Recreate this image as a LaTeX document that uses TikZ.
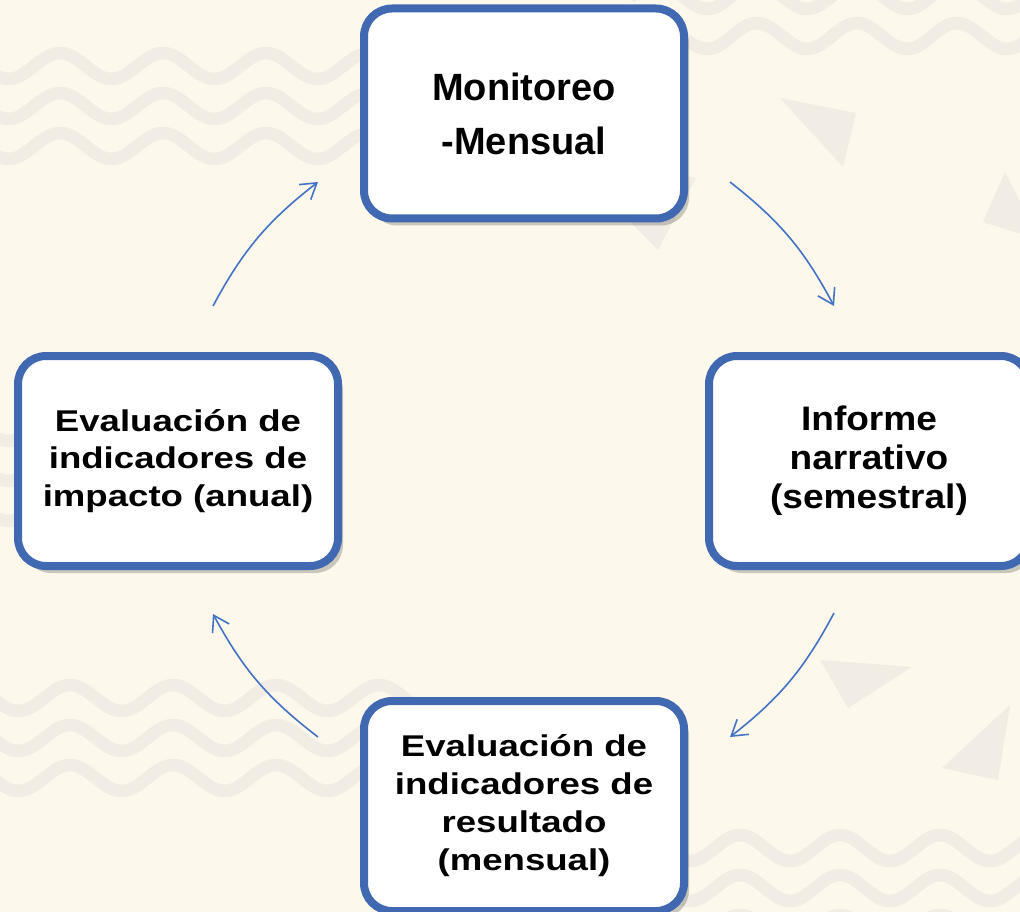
\documentclass[tikz,border=0pt]{standalone}
\usepackage{fontspec}
\setmainfont{Liberation Sans}
\newfontfamily\fA[FakeStretch=1.22]{Liberation Sans}
\newfontfamily\fB[FakeStretch=1.09]{Liberation Sans}
\usetikzlibrary{arrows.meta,shadows}
\definecolor{bg}{RGB}{252,248,236}
\definecolor{deco}{RGB}{241,236,228}
\definecolor{boxblue}{RGB}{65,105,177}
\definecolor{arrowblue}{RGB}{68,114,196}
\newcommand{\wavegrp}[5]{%
  \foreach \m in {0,40,80}{%
    \draw[wave] plot[domain=#1:#2,samples=140,smooth] (\x,{-((#3)+\m)+13*cos(((\x-(#4))/(#5))*360)});
  }}
\begin{document}
\begin{tikzpicture}[x=1pt,y=1pt,
  stepbox/.style={draw=boxblue,line width=8pt,fill=white,rounded corners=28pt,
    minimum width=320pt,minimum height=210pt,align=center,inner sep=0pt,
    drop shadow={shadow xshift=5pt,shadow yshift=-7pt,opacity=0.2,fill=black}},
  flow/.style={draw=arrowblue,line width=1.6pt,-{Straight Barb[length=15pt,width=19pt]}},
  wave/.style={draw=deco,line width=12.5pt},
  tri/.style={fill=deco}]
\clip (0,0) rectangle (1020,-912);
\fill[bg] (0,0) rectangle (1020,-912);
% background waves
\wavegrp{-5}{430}{66}{60}{103}
\wavegrp{630}{1025}{-44}{757}{100}
\wavegrp{-5}{330}{428}{60}{103}
\wavegrp{-5}{430}{698}{70}{103}
\wavegrp{630}{1025}{848}{740}{100}
% background triangles
\fill[tri] (780,-98) -- (856,-113) -- (843,-167) -- cycle;
\fill[tri] (1005,-172) -- (983,-222) -- (1040,-240) -- cycle;
\fill[tri] (658,-250) -- (560,-150) -- (696,-178) -- cycle;
\fill[tri] (820,-660) -- (912,-667) -- (848,-708) -- cycle;
\fill[tri] (1010,-705) -- (942,-768) -- (998,-780) -- cycle;
% boxes
\node[stepbox,font=\bfseries\fontsize{38}{54}\selectfont] (mon) at (524,-113.5) {Monitoreo\\-Mensual};
\node[stepbox,font=\fB\bfseries\fontsize{34}{39}\selectfont] (inf) at (869,-461) {Informe\\narrativo\\(semestral)};
\node[stepbox,font=\fA\bfseries\fontsize{30}{38}\selectfont] (res) at (524,-806) {Evaluación de\\indicadores de\\resultado\\(mensual)};
\node[stepbox,font=\fA\bfseries\fontsize{30}{37.5}\selectfont] (imp) at (178,-461) {Evaluación de\\indicadores de\\impacto (anual)};
% connector ends
\coordinate (a1s) at (213,-306); \coordinate (a1e) at (318,-182);
\coordinate (a2s) at (730,-182); \coordinate (a2e) at (834,-306);
\coordinate (a3s) at (834,-613); \coordinate (a3e) at (730,-737);
\coordinate (a4s) at (318,-737); \coordinate (a4e) at (213,-614);
\draw[flow] (a1s) to[bend left=12] (a1e);
\draw[flow] (a2s) to[bend left=12] (a2e);
\draw[flow] (a3s) to[bend left=12] (a3e);
\draw[flow] (a4s) to[bend left=12] (a4e);
\end{tikzpicture}
\end{document}
